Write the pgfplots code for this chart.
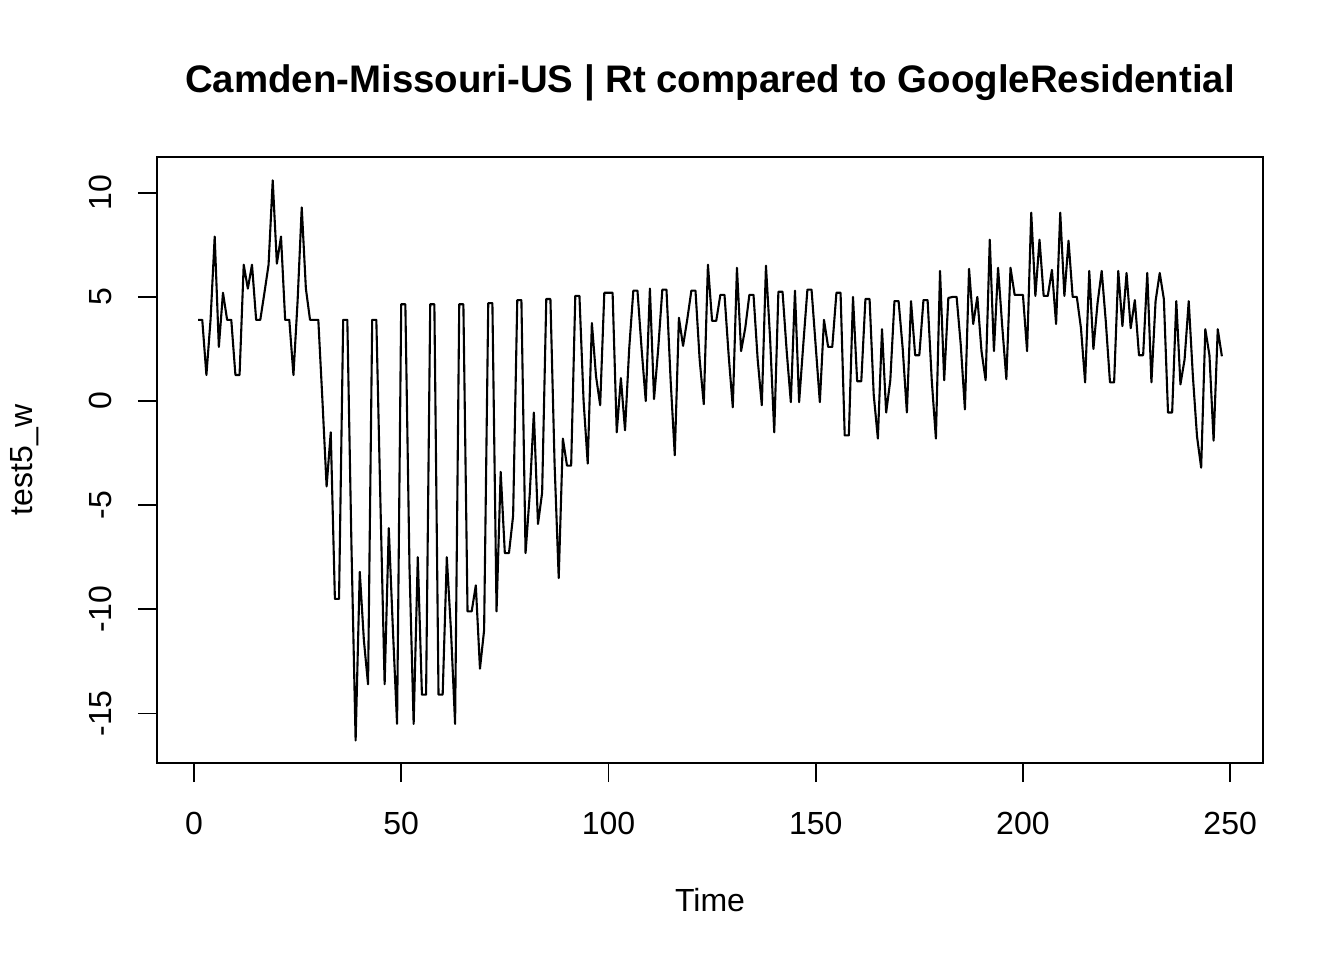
\documentclass[border=0pt]{standalone}
\usepackage{fontspec}
\setmainfont{Liberation Sans}
\usepackage{pgfplots}
\pgfplotsset{compat=1.18}
\begin{document}
\begin{tikzpicture}
\path[use as bounding box] (0pt,0pt) rectangle (672pt,480pt);
\begin{axis}[
  at={(78.5pt,98.5pt)}, anchor=south west,
  scale only axis, width=553pt, height=303pt,
  xmin=-8.92, xmax=257.92, ymin=-17.38, ymax=11.72,
  axis line style={line width=0.9pt},
  xtick={0,50,100,150,200,250}, ytick={-15,-10,-5,0,5,10},
  xticklabels={0,50,100,150,200,250}, yticklabels={-15,-10,-5,0,5,10},
  xtick pos=bottom, ytick pos=left, tick align=outside,
  major tick length=9.6pt, tick style={line width=0.9pt, black},
  ticklabel style={font=\fontsize{16}{19}\selectfont},
  xticklabel style={anchor=north, inner sep=0pt, yshift=-14.9pt},
  yticklabel style={xshift=-12.9pt, rotate=90, anchor=south, inner sep=0pt},
  xlabel={Time}, ylabel={test5\_w},
  label style={font=\fontsize{16}{19}\selectfont},
  xlabel style={at={(axis description cs:0.5,0)}, anchor=center, yshift=-68.5pt},
  ylabel style={at={(axis description cs:-0.1193,0.5)}, anchor=center},
  title={Camden-Missouri-US | Rt compared to GoogleResidential},
  title style={font=\bfseries\fontsize{19.2}{23}\selectfont, at={(axis description cs:0.5,1)}, anchor=center, yshift=31pt},
]
\addplot[black, line width=1.05pt, mark=none, line join=round] table {
t y
1 3.9
2 3.9
3 1.25
4 3.9
5 7.9
6 2.6
7 5.2
8 3.9
9 3.9
10 1.25
11 1.25
12 6.55
13 5.4
14 6.55
15 3.9
16 3.9
17 5.2
18 6.55
19 10.6
20 6.6
21 7.9
22 3.9
23 3.9
24 1.25
25 4.8
26 9.3
27 5.4
28 3.9
29 3.9
30 3.9
31 0.0
32 -4.1
33 -1.5
34 -9.5
35 -9.5
36 3.9
37 3.9
38 -7
39 -16.3
40 -8.2
41 -11.5
42 -13.6
43 3.9
44 3.9
45 -5
46 -13.6
47 -6.1
48 -11
49 -15.5
50 4.65
51 4.65
52 -8
53 -15.5
54 -7.5
55 -14.1
56 -14.1
57 4.65
58 4.65
59 -14.1
60 -14.1
61 -7.5
62 -11
63 -15.5
64 4.65
65 4.65
66 -10.1
67 -10.1
68 -8.85
69 -12.85
70 -11
71 4.7
72 4.7
73 -10.1
74 -3.4
75 -7.3
76 -7.3
77 -5.5
78 4.85
79 4.85
80 -7.3
81 -4.5
82 -0.55
83 -5.9
84 -4.4
85 4.9
86 4.9
87 -3
88 -8.5
89 -1.8
90 -3.1
91 -3.1
92 5.05
93 5.05
94 0
95 -3.0
96 3.75
97 1.2
98 -0.2
99 5.2
100 5.2
101 5.2
102 -1.5
103 1.1
104 -1.4
105 2.5
106 5.3
107 5.3
108 2.5
109 0.0
110 5.4
111 0.1
112 2.5
113 5.35
114 5.35
115 1.0
116 -2.6
117 4.0
118 2.65
119 3.9
120 5.3
121 5.3
122 2.0
123 -0.15
124 6.55
125 3.85
126 3.85
127 5.1
128 5.1
129 2.2
130 -0.3
131 6.4
132 2.4
133 3.5
134 5.1
135 5.1
136 2.0
137 -0.2
138 6.5
139 3.0
140 -1.5
141 5.25
142 5.25
143 2.4
144 -0.05
145 5.3
146 -0.05
147 2.7
148 5.35
149 5.35
150 2.65
151 -0.05
152 3.9
153 2.6
154 2.6
155 5.2
156 5.2
157 -1.65
158 -1.65
159 5.0
160 0.95
161 0.95
162 4.9
163 4.9
164 0.3
165 -1.8
166 3.45
167 -0.55
168 1.0
169 4.8
170 4.8
171 2.5
172 -0.55
173 4.8
174 2.2
175 2.2
176 4.85
177 4.85
178 1.0
179 -1.8
180 6.25
181 1.0
182 4.95
183 5.0
184 5.0
185 2.7
186 -0.4
187 6.35
188 3.7
189 5.0
190 2.4
191 1.0
192 7.75
193 2.4
194 6.4
195 3.6
196 1.05
197 6.4
198 5.1
199 5.1
200 5.1
201 2.4
202 9.05
203 5.05
204 7.75
205 5.05
206 5.05
207 6.3
208 3.7
209 9.05
210 5.05
211 7.7
212 5.0
213 5.0
214 3.5
215 0.9
216 6.25
217 2.5
218 4.7
219 6.25
220 3.8
221 0.9
222 0.9
223 6.25
224 3.6
225 6.15
226 3.5
227 4.85
228 2.2
229 2.2
230 6.15
231 0.9
232 4.8
233 6.15
234 4.9
235 -0.55
236 -0.55
237 4.8
238 0.8
239 2.0
240 4.8
241 1.2
242 -1.7
243 -3.2
244 3.45
245 2.2
246 -1.9
247 3.45
248 2.15
};
\end{axis}
\end{tikzpicture}
\end{document}
